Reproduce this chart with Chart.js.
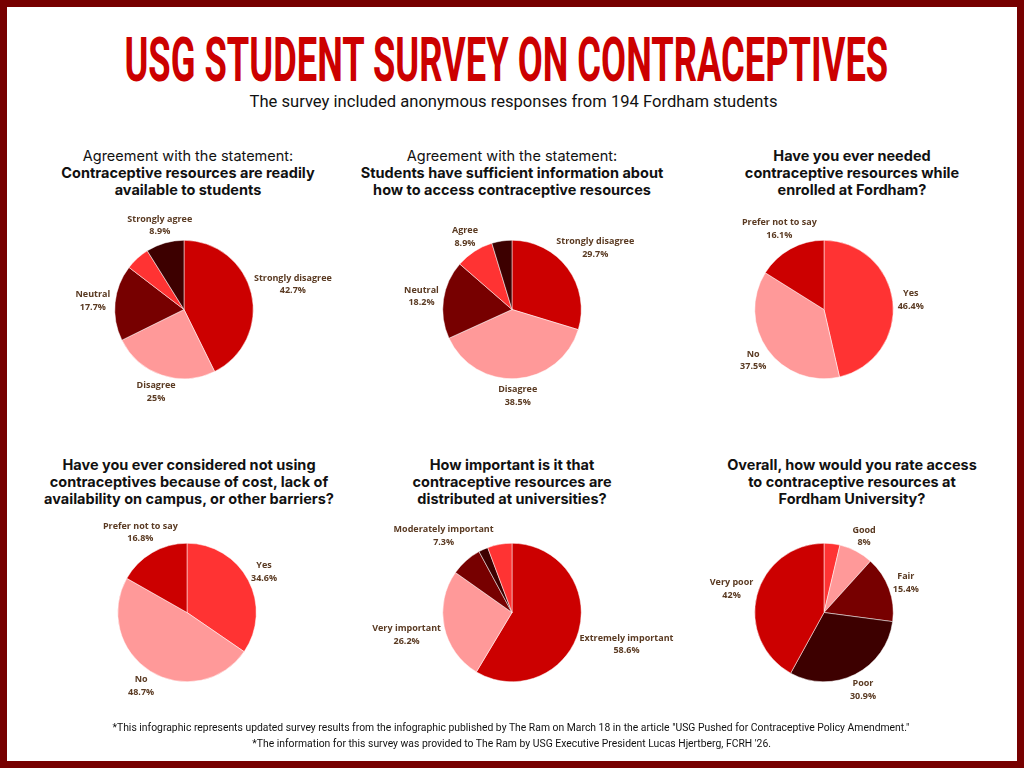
<!DOCTYPE html>
<html lang="en">
<head>
<meta charset="UTF-8">
<title>USG Student Survey on Contraceptives</title>
<script src="https://cdn.jsdelivr.net/npm/chart.js"></script>
<style>
    body {
        margin: 0;
        background: #ffffff;
    }

    #page {
        position: relative;
        width: 1024px;
        height: 768px;
        overflow: hidden;
        background: #ffffff;
        font-family: Inter, "Noto Sans", sans-serif;
    }

    #frame {
        position: absolute;
        left: 0;
        top: 0;
        width: 1024px;
        height: 768px;
        box-sizing: border-box;
        border: 7px solid #770000;
        pointer-events: none;
    }

    .fit {
        position: absolute;
        white-space: nowrap;
        transform-origin: center center;
    }

    #mainTitle {
        font-family: Roboto, "DejaVu Sans Condensed", sans-serif;
        font-weight: 700;
        font-size: 62px;
        line-height: 62px;
        color: #cc0000;
    }

    #subTitle {
        font-family: Roboto, "DejaVu Sans Condensed", sans-serif;
        font-size: 17px;
        line-height: 20px;
        color: #111111;
    }

    .footnote {
        font-family: Roboto, "DejaVu Sans Condensed", sans-serif;
        font-size: 11.5px;
        line-height: 14px;
        color: #111111;
    }

    .chartTitle {
        position: absolute;
        width: 360px;
        text-align: center;
        font-size: 14.5px;
        line-height: 17px;
        color: #111111;
    }

    .chartTitle b {
        font-weight: 700;
    }

    .pieBox {
        position: absolute;
        width: 360px;
        height: 220px;
    }
</style>
</head>
<body>
<div id="page">
    <div id="mainTitle" class="fit">USG STUDENT SURVEY ON CONTRACEPTIVES</div>
    <div id="subTitle" class="fit">The survey included anonymous responses from 194 Fordham students</div>

    <div class="chartTitle" style="left:8px; top:147px;">Agreement with the statement:<br><b>Contraceptive resources are readily<br>available to students</b></div>
    <div class="chartTitle" style="left:332px; top:147px;">Agreement with the statement:<br><b>Students have sufficient information about<br>how to access contraceptive resources</b></div>
    <div class="chartTitle" style="left:672px; top:147px;"><b>Have you ever needed<br>contraceptive resources while<br>enrolled at Fordham?</b></div>
    <div class="chartTitle" style="left:9px; top:456px;"><b>Have you ever considered not using<br>contraceptives because of cost, lack of<br>availability on campus, or other barriers?</b></div>
    <div class="chartTitle" style="left:332px; top:456px;"><b>How important is it that<br>contraceptive resources are<br>distributed at universities?</b></div>
    <div class="chartTitle" style="left:672px; top:456px;"><b>Overall, how would you rate access<br>to contraceptive resources at<br>Fordham University?</b></div>

    <div class="pieBox" style="left:4px; top:200px;"><canvas id="pie1"></canvas></div>
    <div class="pieBox" style="left:332px; top:200px;"><canvas id="pie2"></canvas></div>
    <div class="pieBox" style="left:644px; top:200px;"><canvas id="pie3"></canvas></div>
    <div class="pieBox" style="left:7px; top:503px;"><canvas id="pie4"></canvas></div>
    <div class="pieBox" style="left:332px; top:503px;"><canvas id="pie5"></canvas></div>
    <div class="pieBox" style="left:644px; top:503px;"><canvas id="pie6"></canvas></div>

    <div id="foot1" class="fit footnote">*This infographic represents updated survey results from the infographic published by The Ram on March 18 in the article "USG Pushed for Contraceptive Policy Amendment."</div>
    <div id="foot2" class="fit footnote">*The information for this survey was provided to The Ram by USG Executive President Lucas Hjertberg, FCRH '26.</div>

    <div id="frame"></div>
</div>

<script>
    // survey answers, percent of respondents (clockwise from 12 o'clock)
    const agreeLabels = ['Strongly disagree', 'Disagree', 'Neutral', 'Agree', 'Strongly agree'];
    const readilyAvailable = [42.7, 25, 17.7, 5.7, 8.9];
    const sufficientInfo = [29.7, 38.5, 18.2, 8.9, 4.7];

    const yesNoLabels = ['Yes', 'No', 'Prefer not to say'];
    const everNeeded = [46.4, 37.5, 16.1];
    const consideredNotUsing = [34.6, 48.7, 16.8];

    const importanceLabels = ['Extremely important', 'Very important', 'Moderately important', 'Slightly important', 'Not important'];
    const importanceValues = [58.6, 26.2, 7.3, 2.2, 5.7];

    const ratingLabels = ['Excellent', 'Good', 'Fair', 'Poor', 'Very poor'];
    const ratingValues = [3.7, 8, 15.4, 30.9, 42];

    const RED = '#cc0000', PINK = '#ff9999', MAROON = '#770000', BRIGHT = '#ff3333', DARK = '#3d0000';
    const agreeColors = [RED, PINK, MAROON, BRIGHT, DARK];
    const yesNoColors = [BRIGHT, PINK, RED];
    const importanceColors = [RED, PINK, MAROON, DARK, BRIGHT];
    const ratingColors = [BRIGHT, PINK, MAROON, DARK, RED];

    const labelMin = 7; // slices smaller than this get no label

    // draws "name / value%" just outside each slice
    const outsideLabels = {
        id: 'outsideLabels',
        afterDatasetsDraw(chart) {
            const ctx = chart.ctx;
            const meta = chart.getDatasetMeta(0);
            const values = chart.data.datasets[0].data;
            ctx.save();
            ctx.font = 'bold 9px "Open Sans", sans-serif';
            ctx.fillStyle = '#5a3a22';
            ctx.textAlign = 'center';
            ctx.textBaseline = 'middle';
            meta.data.forEach((arc, i) => {
                const v = values[i];
                if (v < labelMin) return;
                const p = arc.getProps(['x', 'y', 'startAngle', 'endAngle', 'outerRadius'], true);
                const mid = (p.startAngle + p.endAngle) / 2;
                const dx = Math.cos(mid), dy = Math.sin(mid);
                const line1 = chart.data.labels[i];
                const line2 = v + '%';
                const w = Math.max(ctx.measureText(line1).width, ctx.measureText(line2).width);
                const d = p.outerRadius + 5 + dx * dx * w / 2 + dy * dy * 12;
                const cx = p.x + dx * d, cy = p.y + dy * d;
                ctx.fillText(line1, cx, cy - 6);
                ctx.fillText(line2, cx, cy + 6.5);
            });
            ctx.restore();
        }
    };

    function makePie(id, labels, values, colors) {
        return new Chart(document.getElementById(id), {
            type: 'pie',
            data: {
                labels: labels,
                datasets: [{
                    data: values,
                    backgroundColor: colors,
                    borderColor: '#ffffff',
                    borderWidth: 0.5,
                    hoverOffset: 0
                }]
            },
            options: {
                responsive: true,
                maintainAspectRatio: false,
                devicePixelRatio: 1,
                animation: false,
                events: [],
                layout: { padding: { top: 40, bottom: 41 } },
                plugins: {
                    legend: { display: false },
                    tooltip: { enabled: false }
                }
            },
            plugins: [outsideLabels]
        });
    }

    makePie('pie1', agreeLabels, readilyAvailable, agreeColors);
    makePie('pie2', agreeLabels, sufficientInfo, agreeColors);
    makePie('pie3', yesNoLabels, everNeeded, yesNoColors);
    makePie('pie4', yesNoLabels, consideredNotUsing, yesNoColors);
    makePie('pie5', importanceLabels, importanceValues, importanceColors);
    makePie('pie6', ratingLabels, ratingValues, ratingColors);

    // squeeze a text line into a given box (condensed title fonts)
    function fitText(id, cx, cy, width, scale) {
        const el = document.getElementById(id);
        const w = el.offsetWidth, h = el.offsetHeight;
        const s = scale || width / w;
        el.style.left = (cx - w / 2) + 'px';
        el.style.top = (cy - h / 2) + 'px';
        el.style.transform = 'scaleX(' + s + ')';
        return s;
    }

    fitText('mainTitle', 506, 60, 764);
    fitText('subTitle', 513, 101, 528);
    const footScale = fitText('foot1', 511, 727, 797);
    fitText('foot2', 511, 743, 0, footScale);
</script>
</body>
</html>
